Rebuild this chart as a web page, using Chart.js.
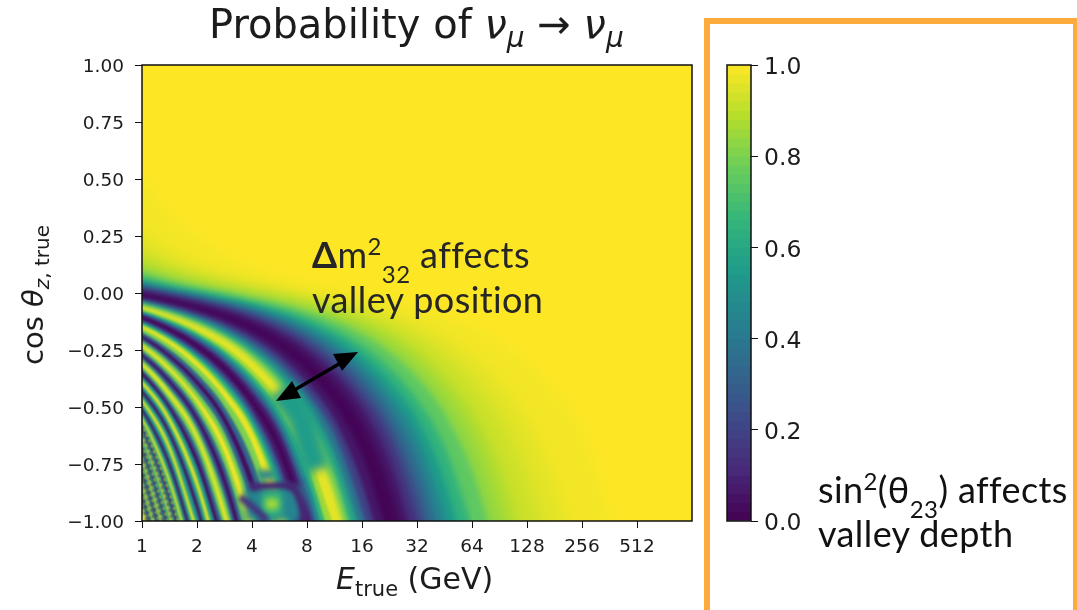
<!DOCTYPE html>
<html>
<head>
<meta charset="utf-8">
<title>Probability of numu to numu</title>
<script src="https://cdn.jsdelivr.net/npm/chart.js@4"></script>
<style>
  html, body { margin: 0; padding: 0; background: #fff; overflow: hidden; }
  #page { position: relative; width: 1077px; height: 610px; overflow: hidden; }
  canvas { position: absolute; left: 0; top: 0; }
  .txt { position: absolute; white-space: nowrap; line-height: 1; }
  .mpl { font-family: "DejaVu Sans"; color: #1c1c1c; }
  .note { font-family: "Lato"; font-size: 36px; letter-spacing: 0.4px; color: #262626; }
  .note sup, .note sub { font-size: 24px; line-height: 0; }
  .note sup { vertical-align: 13px; }
  .note sub { vertical-align: -15px; }
  #box { position: absolute; left: 704px; top: 18px; width: 363px; height: 590px; border: 6px solid #fdab3d; }
  svg { position: absolute; left: 0; top: 0; }
</style>
</head>
<body>
<div id="page">
  <canvas id="map" width="1077" height="610"></canvas>
  <canvas id="bar" width="1077" height="610"></canvas>
  <div id="box"></div>

  <svg width="1077" height="610">
    <line x1="291" y1="392" x2="344" y2="361" stroke="#000" stroke-width="3.5"/>
    <polygon points="358,352 333,354 342,371" fill="#000"/>
    <polygon points="276,401 301,398 292,381" fill="#000"/>
  </svg>

  <div class="txt mpl" style="left:209px;top:4px;font-size:40px">Probability of <i>ν</i><sub style="font-size:28px;line-height:0"><i>μ</i></sub> → <i>ν</i><sub style="font-size:28px;line-height:0"><i>μ</i></sub></div>
  <div class="txt mpl" style="left:336px;top:564px;font-size:30px"><i>E</i><sub style="font-size:21px;line-height:0">true</sub> (GeV)</div>
  <div class="txt mpl" style="left:33px;top:295px;font-size:29px;transform:translate(-50%,-50%) rotate(-90deg)">cos <i>θ</i><sub style="font-size:20px;line-height:0"><i>z</i>, true</sub></div>

  <div class="txt note" style="left:312px;top:236px"><b>Δ</b>m<sup>2</sup><sub>32</sub> affects</div>
  <div class="txt note" style="left:312px;top:281px">valley position</div>
  <div class="txt note" style="left:818px;top:471px;color:#111">sin<sup>2</sup>(θ<sub>23</sub>) affects</div>
  <div class="txt note" style="left:818px;top:515px;color:#111">valley depth</div>
</div>

<script>
// true energy grid (GeV) the contours were read at
const energyGrid = [1, 1.41, 2, 2.83, 4, 5.66, 8, 11.3, 16, 22.6, 32, 45, 64, 90, 128, 181, 256, 512]

const energyTicks = [1, 2, 4, 8, 16, 32, 64, 128, 256, 512]
const cosTicks = [-1, -0.75, -0.5, -0.25, 0, 0.25, 0.5, 0.75, 1]
const probTicks = [0, 0.2, 0.4, 0.6, 0.8, 1]

// colourbar slices
const barLevels = [0, 0.02, 0.04, 0.06, 0.08, 0.1, 0.12, 0.14, 0.16, 0.18, 0.2, 0.22, 0.24, 0.26, 0.28, 0.3, 0.32, 0.34, 0.36, 0.38, 0.4, 0.42, 0.44, 0.46, 0.48, 0.5, 0.52, 0.54, 0.56, 0.58, 0.6, 0.62, 0.64, 0.66, 0.68, 0.7, 0.72, 0.74, 0.76, 0.78, 0.8, 0.82, 0.84, 0.86, 0.88, 0.9, 0.92, 0.94, 0.96, 0.98]

const viridis = ['#440154', '#482878', '#3e4a89', '#31688e', '#26838f', '#1f9d8a', '#35b779', '#6cce5a', '#b6de2b', '#fde725']

// probability levels, one per contour, painted from the top right to the bottom left
const contourLevels = [
  0.985, 0.96, 0.925, 0.875, 0.83, 0.75, 0.65, 0.55, 0.45, 0.35, 0.25, 0.15, 0.06, 0.01,
  0.06, 0.2, 0.4, 0.6, 0.8, 0.96,
  0.85, 0.65, 0.45, 0.25, 0.08, 0.02,
  0.08, 0.25, 0.45, 0.65, 0.85, 0.97,
  0.8, 0.32, 0.04, 0.32, 0.8, 0.98, 0.8, 0.32, 0.04, 0.32, 0.8, 0.98, 0.8, 0.32, 0.04,
  0.55, 0.95, 0.55, 0.06, 0.55, 0.95, 0.55, 0.06, 0.55, 0.95, 0.55, 0.06, 0.55, 0.95, 0.55, 0.06,
  0.55, 0.95, 0.55, 0.06, 0.55, 0.95, 0.55, 0.06, 0.55, 0.95
]

// cos(theta) of each contour at the energies of energyGrid
const contourCuts = [
  [0.493, 0.346, 0.243, 0.168, 0.114, 0.074, 0.043, 0.017, -0.007, -0.032, -0.06, -0.096, -0.144, -0.208, -0.301, -0.429, -0.61, -1.37],
  [0.266, 0.186, 0.126, 0.084, 0.05, 0.023, -0.001, -0.025, -0.053, -0.087, -0.131, -0.19, -0.275, -0.389, -0.557, -0.83, -1.25],
  [0.192, 0.133, 0.087, 0.054, 0.026, 0.001, -0.023, -0.05, -0.083, -0.126, -0.184, -0.263, -0.377, -0.533, -0.794, -1.2],
  [0.137, 0.091, 0.056, 0.028, 0.004, -0.02, -0.047, -0.079, -0.121, -0.177, -0.256, -0.364, -0.517, -0.758, -1.15],
  [0.109, 0.071, 0.039, 0.014, -0.01, -0.035, -0.064, -0.102, -0.151, -0.219, -0.313, -0.445, -0.632, -0.969, -1.45],
  [0.089, 0.055, 0.027, 0.003, -0.022, -0.048, -0.081, -0.123, -0.181, -0.26, -0.371, -0.526, -0.779, -1.18],
  [0.066, 0.036, 0.011, -0.012, -0.039, -0.069, -0.107, -0.159, -0.229, -0.327, -0.465, -0.665, -1.02],
  [0.051, 0.024, -0.001, -0.025, -0.052, -0.086, -0.13, -0.189, -0.272, -0.387, -0.547, -0.815, -1.24],
  [0.039, 0.014, -0.01, -0.035, -0.064, -0.102, -0.151, -0.219, -0.313, -0.445, -0.632, -0.969, -1.45],
  [0.03, 0.006, -0.019, -0.045, -0.076, -0.117, -0.172, -0.248, -0.354, -0.5, -0.732, -1.12],
  [0.022, -0.002, -0.026, -0.054, -0.088, -0.133, -0.194, -0.278, -0.397, -0.565, -0.846, -1.27],
  [0.014, -0.01, -0.035, -0.064, -0.101, -0.15, -0.218, -0.312, -0.445, -0.628, -0.964, -1.43],
  [0.006, -0.018, -0.044, -0.076, -0.117, -0.172, -0.247, -0.352, -0.5, -0.732, -1.12],
  [-0.003, -0.027, -0.055, -0.089, -0.134, -0.196, -0.281, -0.401, -0.569, -0.851, -1.29],

  [-0.017, -0.042, -0.074, -0.114, -0.168, -0.242, -0.345, -0.49, -0.712, -1.08],
  [-0.026, -0.053, -0.087, -0.132, -0.192, -0.276, -0.393, -0.557, -0.835, -1.26],
  [-0.034, -0.063, -0.101, -0.149, -0.217, -0.309, -0.441, -0.624, -0.959, -1.4],
  [-0.042, -0.073, -0.113, -0.167, -0.241, -0.343, -0.49, -0.707, -1.07],
  [-0.05, -0.083, -0.126, -0.185, -0.265, -0.377, -0.537, -0.794, -1.21],
  [-0.058, -0.092, -0.139, -0.2, -0.289, -0.413, -0.586, -0.882, -1.32],

  [-0.071, -0.11, -0.164, -0.236, -0.337, -0.477, -0.691, -1.03],
  [-0.078, -0.12, -0.176, -0.253, -0.361, -0.513, -0.753, -1.14],
  [-0.085, -0.128, -0.188, -0.27, -0.385, -0.546, -0.815, -1.23],
  [-0.091, -0.137, -0.2, -0.287, -0.409, -0.582, -0.877, -1.32],
  [-0.098, -0.146, -0.213, -0.304, -0.433, -0.614, -0.936, -1.4],
  [-0.105, -0.155, -0.225, -0.32, -0.457, -0.65, -1.0, -1.5],

  [-0.113, -0.166, -0.241, -0.344, -0.49, -0.707, -1.07],
  [-0.12, -0.175, -0.253, -0.36, -0.513, -0.753, -1.14],
  [-0.126, -0.184, -0.265, -0.378, -0.537, -0.794, -1.21],
  [-0.132, -0.192, -0.277, -0.393, -0.56, -0.835, -1.27],
  [-0.139, -0.2, -0.289, -0.413, -0.586, -0.882, -1.32],
  [-0.145, -0.209, -0.301, -0.429, -0.606, -0.926, -1.38],

  [-0.157, -0.226, -0.325, -0.461, -0.66, -1.02],
  [-0.172, -0.247, -0.353, -0.5, -0.732, -1.12],
  [-0.186, -0.266, -0.379, -0.537, -0.799, -1.21],
  [-0.199, -0.285, -0.405, -0.575, -0.872, -1.31],
  [-0.212, -0.303, -0.433, -0.614, -0.938, -1.4],
  [-0.226, -0.323, -0.461, -0.655, -1.0, -1.5],
  [-0.24, -0.341, -0.485, -0.707, -1.07],
  [-0.253, -0.36, -0.513, -0.753, -1.14],
  [-0.267, -0.378, -0.54, -0.799, -1.21],
  [-0.28, -0.397, -0.565, -0.851, -1.29],
  [-0.293, -0.417, -0.592, -0.897, -1.35],
  [-0.306, -0.433, -0.618, -0.947, -1.42],
  [-0.32, -0.453, -0.645, -0.995, -1.49],
  [-0.333, -0.473, -0.68, -1.03],
  [-0.346, -0.493, -0.717, -1.09],

  [-0.365, -0.513, -0.76, -1.15],
  [-0.384, -0.54, -0.81, -1.23],
  [-0.404, -0.572, -0.861, -1.3],
  [-0.423, -0.6, -0.912, -1.37],
  [-0.443, -0.628, -0.963, -1.44],
  [-0.463, -0.66, -1.02],
  [-0.483, -0.696, -1.07],
  [-0.503, -0.732, -1.12],
  [-0.522, -0.767, -1.17],
  [-0.542, -0.805, -1.22],
  [-0.562, -0.84, -1.27],
  [-0.581, -0.877, -1.32],
  [-0.601, -0.912, -1.38],
  [-0.621, -0.947, -1.42],
  [-0.64, -0.983, -1.48],
  [-0.668, -1.02],
  [-0.694, -1.05],
  [-0.72, -1.09],
  [-0.745, -1.13],
  [-0.771, -1.16],
  [-0.797, -1.2],
  [-0.823, -1.24],
  [-0.85, -1.28],
  [-0.875, -1.31],
  [-0.901, -1.35],
  [-0.926, -1.39]
]

// places near the Earth's core where the pattern breaks off the valleys: energy, cos(theta), level
const patchEnergy = [
  [5.69, 7.32, 8.31, 9.07],
  [3.66, 5.84, 7.6],
  [4.31, 5.35],
  [3.9, 5.02, 6.62, 7.32, 7.7, 8],
  [4.54, 5.84],
  [4.77, 5.55],
  [3.44, 4.05, 4.83]
]
const patchCos = [
  [-0.425, -0.544, -0.689, -0.776],
  [-0.925, -0.925, -0.925],
  [-0.798, -0.798],
  [-0.851, -0.846, -0.851, -0.908, -0.965, -1.02],
  [-0.925, -0.925],
  [-0.925, -0.925],
  [-0.895, -0.939, -0.996]
]
const patchLevels = [0.55, 0.45, 0.45, 0.1, 0.65, 0.88, 0.15]

const patchWidths = [26, 34, 10, 7, 24, 10, 7]
const patchBlurs = [5, 4, 3, 2, 3, 3, 2]

function levelColour(level) {
  const pos = Math.min(Math.max(level, 0), 1) * (viridis.length - 1)
  const i = Math.min(Math.floor(pos), viridis.length - 2)
  const t = pos - i
  const a = viridis[i], b = viridis[i + 1]
  const mix = n => Math.round(parseInt(a.substr(n, 2), 16) * (1 - t) + parseInt(b.substr(n, 2), 16) * t)
  return `rgb(${mix(1)},${mix(3)},${mix(5)})`
}

function contourDataset(cuts, i) {
  const points = cuts.map((y, k) => ({ x: energyGrid[k], y: y }))
  // run a little off the left edge so the blur does not fade there
  points.unshift({ x: 0.8, y: cuts[0] + (cuts[0] - cuts[1]) * 0.4 })
  const level = contourLevels[i]
  // the finest fringes alias into a speckle in the original
  const speckle = i >= 57 && (level > 0.9 || level < 0.1)
  return {
    data: points,
    blur: i < 5 ? 6 : i < 14 ? 3 : i < 20 ? 2 : i < 47 ? 1.2 : 0.8,
    order: -i,
    borderWidth: speckle ? 2 : 0,
    borderColor: levelColour(level > 0.5 ? 0.1 : 0.9),
    borderDash: speckle ? [3, 3] : [],
    pointRadius: 0,
    cubicInterpolationMode: 'monotone',
    backgroundColor: levelColour(level),
    fill: { target: { value: -1.3 } }
  }
}

function patchDataset(energies, i) {
  return {
    data: energies.map((x, k) => ({ x: x, y: patchCos[i][k] })),
    blur: patchBlurs[i],
    order: -contourCuts.length - i,
    borderWidth: patchWidths[i],
    borderColor: levelColour(patchLevels[i]),
    borderCapStyle: 'butt',
    pointRadius: 0,
    tension: 0.3,
    fill: false
  }
}

// paints the yellow behind the contours and softens them, the original is a resampled image
const softMap = {
  id: 'softMap',
  beforeDatasetsDraw(chart) {
    const a = chart.chartArea
    chart.ctx.fillStyle = levelColour(1)
    chart.ctx.fillRect(a.left, a.top, a.right - a.left, a.bottom - a.top)
    chart.ctx.filter = 'blur(' + chart.data.datasets[0].blur + 'px)'
  },
  afterDatasetDraw(chart, args) {
    const next = chart.data.datasets[args.index + 1]
    chart.ctx.filter = next ? 'blur(' + next.blur + 'px)' : 'none'
  }
}

const frame = {
  id: 'frame',
  afterDraw(chart) {
    const a = chart.chartArea, ctx = chart.ctx
    ctx.save()
    ctx.strokeStyle = '#111'
    ctx.lineWidth = 1.5
    ctx.strokeRect(a.left, a.top, a.right - a.left, a.bottom - a.top)
    ctx.restore()
  }
}

const tickFont = { family: 'DejaVu Sans', size: 18.5 }

new Chart(document.getElementById('map'), {
  type: 'line',
  data: { datasets: contourCuts.map(contourDataset).concat(patchEnergy.map(patchDataset)) },
  plugins: [softMap, frame],
  options: {
    responsive: false,
    animation: false,
    layout: { padding: { top: 65, right: 385 } },
    plugins: { legend: { display: false }, tooltip: { enabled: false } },
    scales: {
      x: {
        type: 'logarithmic',
        min: 1,
        max: 1024,
        afterBuildTicks: scale => { scale.ticks = energyTicks.map(v => ({ value: v })) },
        afterFit: scale => { scale.height = 89 },
        grid: { drawOnChartArea: false, tickLength: 7, tickColor: '#111' },
        border: { display: false },
        ticks: { autoSkip: false, maxRotation: 0, color: '#1c1c1c', font: tickFont, padding: 8, callback: v => String(v) }
      },
      y: {
        min: -1,
        max: 1,
        afterBuildTicks: scale => { scale.ticks = cosTicks.map(v => ({ value: v })) },
        afterFit: scale => { scale.width = 142 },
        grid: { drawOnChartArea: false, tickLength: 7, tickColor: '#111' },
        border: { display: false },
        ticks: { autoSkip: false, color: '#1c1c1c', font: tickFont, padding: 11, labelOffset: 2, callback: v => v.toFixed(2).replace('-', '\u2212') }
      }
    }
  }
})

new Chart(document.getElementById('bar'), {
  type: 'bar',
  data: {
    labels: ['P'],
    datasets: barLevels.map((lo, i) => ({
      data: [[lo, 1]],
      order: -i,
      backgroundColor: levelColour(lo + 0.01),
      barPercentage: 1,
      categoryPercentage: 1,
      grouped: false
    }))
  },
  plugins: [frame],
  options: {
    responsive: false,
    animation: false,
    layout: { padding: { top: 65, bottom: 89, left: 727 } },
    plugins: { legend: { display: false }, tooltip: { enabled: false } },
    scales: {
      x: { display: false },
      y: {
        position: 'right',
        min: 0,
        max: 1,
        afterBuildTicks: scale => { scale.ticks = probTicks.map(v => ({ value: v })) },
        afterFit: scale => { scale.width = 326 },
        grid: { drawOnChartArea: false, tickLength: 7, tickColor: '#111' },
        border: { display: false },
        ticks: { autoSkip: false, color: '#1c1c1c', font: { family: 'DejaVu Sans', size: 23.5 }, padding: 6, labelOffset: 3, callback: v => v.toFixed(1) }
      }
    }
  }
})
</script>
</body>
</html>
